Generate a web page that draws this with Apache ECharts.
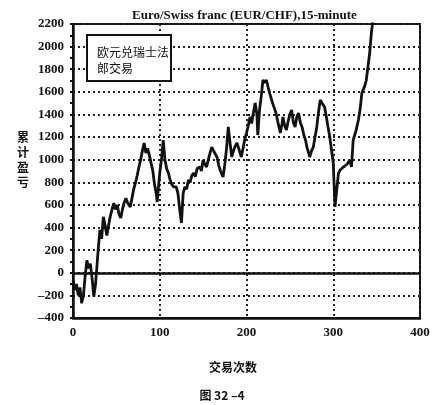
<!DOCTYPE html>
<html>
<head>
<meta charset="utf-8">
<script src="https://cdn.jsdelivr.net/npm/echarts@6/dist/echarts.min.js"></script>
<style>html,body{margin:0;padding:0;background:#fff;}#c{width:442px;height:405px;}</style>
</head>
<body>
<div id="c"></div>
<script>
var title = "Euro/Swiss franc (EUR/CHF),15-minute";
var legendLines = ["欧元兑瑞士法", "郎交易"];
var yName = "累计盈亏";
var xName = "交易次数";
var caption = "图 32 –4";
var xTicks = [0, 100, 200, 300, 400];
var yTicks = [-400, -200, 0, 200, 400, 600, 800, 1000, 1200, 1400, 1600, 1800, 2000, 2200];

var trades = [0,2,4,6,8,10,12,14,16,18,20,22,24,26,27,29,31,33,35,37,39,41,43,45,47,49,51,53,55,57,59,61,63,66,68,70,72,74,76,78,80,82,84,86,88,90,92,94,96,97,99,100,102,104,106,108,110,112,114,116,119,121,123,125,127,129,131,133,135,137,139,141,143,146,148,150,152,154,156,158,160,162,164,166,168,170,173,175,177,179,181,183,185,187,189,191,194,196,198,200,202,204,206,208,210,212,213,215,217,219,221,223,225,227,229,231,234,236,239,241,242,244,246,248,250,252,254,256,258,260,262,264,266,268,270,273,275,277,279,281,283,285,287,290,292,294,296,298,300,302,304,306,308,311,313,316,319,321,323,326,329,331,333,336,338,340,342,344,346];
var pnl = [-60,-150,-100,-200,-130,-270,-200,-30,110,40,80,-50,-210,-100,0,200,380,300,495,420,330,420,500,560,617,560,600,520,484,560,620,660,620,582,660,740,794,860,936,1000,1080,1148,1060,1100,1040,1024,900,780,700,626,800,882,1000,1174,1000,920,882,820,780,759,759,700,560,440,705,760,740,820,800,860,882,850,920,936,900,997,960,936,1000,1060,1112,1080,1050,1024,950,900,847,960,1100,1290,1150,1024,1080,1120,1148,1100,1024,1100,1180,1236,1300,1378,1320,1420,1501,1400,1218,1440,1560,1705,1680,1705,1640,1580,1528,1480,1413,1340,1236,1320,1378,1300,1263,1340,1400,1440,1330,1290,1380,1413,1330,1290,1220,1174,1100,1024,1080,1112,1200,1290,1420,1528,1500,1466,1380,1290,1200,1086,970,582,732,880,909,930,936,960,997,936,1174,1250,1351,1450,1590,1646,1700,1820,1945,2124,2250];

var data = trades.map(function (t, i) { return [t, pnl[i]]; });
var serif = "Liberation Serif";
var cjk = "Noto Sans CJK SC";

var chart = echarts.init(document.getElementById('c'));
chart.setOption({
  animation: false,
  backgroundColor: '#fff',
  title: {
    text: title, left: 127, top: 4,
    textStyle: { fontFamily: serif, fontWeight: 'bold', fontSize: 13, color: '#111' }
  },
  grid: { left: 73, right: 22, top: 24, bottom: 87, show: true, borderColor: '#111', borderWidth: 2, backgroundColor: 'transparent' },
  xAxis: {
    type: 'value', min: xTicks[0], max: xTicks[xTicks.length - 1], interval: 100,
    axisLine: { show: true, onZero: false, lineStyle: { color: '#111', width: 2.5 } },
    axisTick: { show: false },
    axisLabel: { fontFamily: serif, fontWeight: 'bold', fontSize: 13, color: '#111', margin: 8 },
    splitLine: { show: true, lineStyle: { color: '#222', width: 2, type: [2, 3] } }
  },
  yAxis: {
    type: 'value', min: yTicks[0], max: yTicks[yTicks.length - 1], interval: 200,
    axisLine: { show: true, onZero: false, lineStyle: { color: '#111', width: 2.5 } },
    axisTick: { show: true, length: 3, lineStyle: { color: '#111', width: 2 } },
    minorTick: { show: true, splitNumber: 2, length: 3, lineStyle: { color: '#111', width: 2 } },
    axisLabel: {
      fontFamily: serif, fontWeight: 'bold', fontSize: 13, color: '#111', margin: 9,
      formatter: function (v) { return v < 0 ? '–' + Math.abs(v) : String(v); }
    },
    splitLine: { show: true, lineStyle: { color: '#222', width: 2, type: [2, 3] } }
  },
  series: [{
    type: 'line', data: data, showSymbol: false, clip: true,
    lineStyle: { color: '#111', width: 2.8 },
    markLine: {
      silent: true, symbol: 'none', label: { show: false },
      lineStyle: { color: '#111', width: 2.5, type: 'solid' },
      data: [{ yAxis: 0 }]
    }
  }],
  graphic: [
    { type: 'rect', shape: { x: 87, y: 35, width: 84, height: 46 }, style: { fill: '#fff', stroke: '#111', lineWidth: 2 }, z: 100 },
    { type: 'text', x: 97, y: 52, z: 101, style: { text: legendLines[0], fontFamily: cjk, fontSize: 12, fill: '#111', verticalAlign: 'middle' } },
    { type: 'text', x: 97, y: 68, z: 101, style: { text: legendLines[1], fontFamily: cjk, fontSize: 12, fill: '#111', verticalAlign: 'middle' } },
    { type: 'text', x: 23, y: 160, z: 101, style: { text: yName.split('').join('\n'), fontFamily: cjk, fontWeight: 'bold', fontSize: 12, lineHeight: 15, fill: '#111', align: 'center', verticalAlign: 'middle' } },
    { type: 'text', x: 233, y: 367, z: 101, style: { text: xName, fontFamily: cjk, fontWeight: 'bold', fontSize: 12, fill: '#111', align: 'center', verticalAlign: 'middle' } },
    { type: 'text', x: 222, y: 395, z: 101, style: { text: caption, fontFamily: cjk, fontWeight: 'bold', fontSize: 12, fill: '#111', align: 'center', verticalAlign: 'middle' } }
  ]
});
</script>
</body>
</html>
